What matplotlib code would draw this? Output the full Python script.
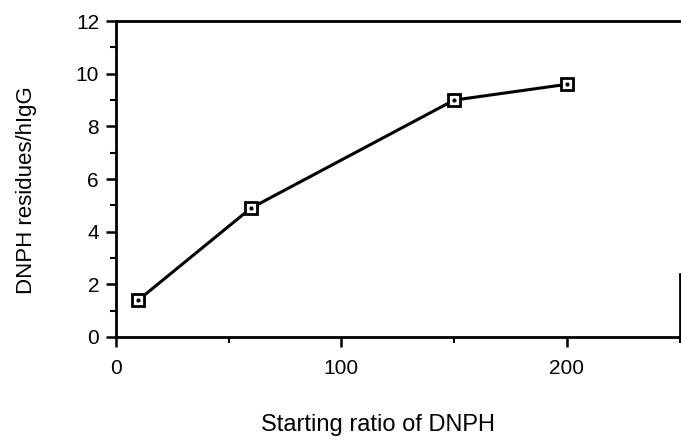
import matplotlib
matplotlib.use('Agg')
import matplotlib.pyplot as plt
from matplotlib.ticker import MultipleLocator

plt.rcParams['font.family'] = ['Liberation Sans', 'DejaVu Sans']

starting_ratio = [10, 60, 150, 200]
dnph_residues = [1.4, 4.9, 9.0, 9.6]


def plot_dnph():
    fig = plt.figure(figsize=(6.81, 4.41), dpi=100)
    ax = fig.add_axes([0.170, 0.236, 0.828, 0.716])

    ax.plot(starting_ratio, dnph_residues, color='black', lw=2.2,
            marker='s', ms=9, mfc='white', mec='black', mew=2.0)
    # little dot inside each square
    ax.plot(starting_ratio, dnph_residues, ls='none', marker='o', ms=2,
            color='black')

    ax.set_xlim(0, 250)
    ax.set_ylim(0, 12)
    ax.xaxis.set_major_locator(MultipleLocator(100))
    ax.xaxis.set_minor_locator(MultipleLocator(50))
    ax.yaxis.set_major_locator(MultipleLocator(2))
    ax.yaxis.set_minor_locator(MultipleLocator(1))

    ax.tick_params(which='major', direction='out', length=7, width=1.8,
                   labelsize=15, pad=5)
    ax.tick_params(which='minor', direction='out', length=4, width=1.5)
    ax.tick_params(axis='x', pad=9)

    for side in ['left', 'bottom', 'top', 'right']:
        ax.spines[side].set_linewidth(2.0)
    # the scanned right edge only shows near the bottom
    ax.spines['right'].set_bounds(0, 2.4)

    ax.set_xlabel('Starting ratio of DNPH', fontsize=17)
    ax.set_ylabel('DNPH residues/hIgG', fontsize=16)
    ax.xaxis.set_label_coords(0.465, -0.243)
    ax.yaxis.set_label_coords(-0.140, 0.465)

    fig.savefig('out.png', dpi=100)


if __name__ == '__main__':
    plot_dnph()
